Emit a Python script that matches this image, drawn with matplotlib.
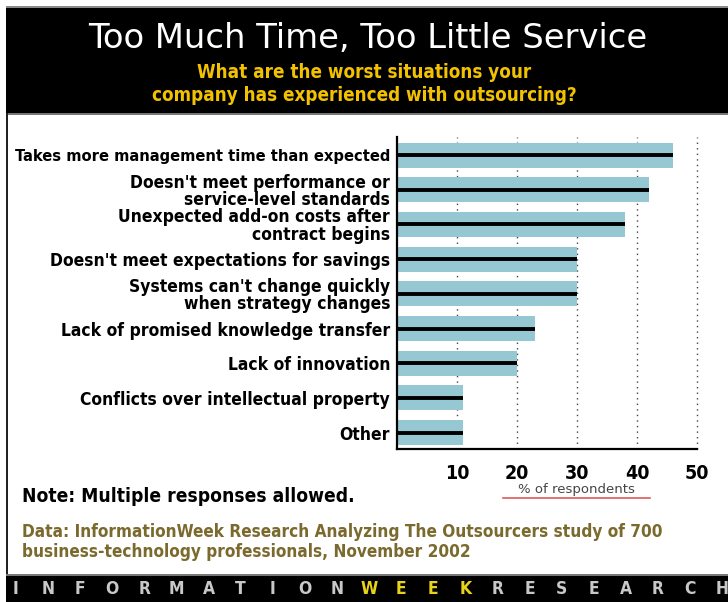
import matplotlib.pyplot as plt
from matplotlib.patches import Rectangle

# data
categories = [
    "Takes more management time than expected",
    "Doesn't meet performance or\nservice-level standards",
    "Unexpected add-on costs after\ncontract begins",
    "Doesn't meet expectations for savings",
    "Systems can't change quickly\nwhen strategy changes",
    "Lack of promised knowledge transfer",
    "Lack of innovation",
    "Conflicts over intellectual property",
    "Other",
]
values = [46, 42, 38, 30, 30, 23, 20, 11, 11]
x_ticks = [10, 20, 30, 40, 50]

title = "Too Much Time, Too Little Service"
subtitle = "What are the worst situations your\ncompany has experienced with outsourcing?"
note = "Note: Multiple responses allowed."
source = ("Data: InformationWeek Research Analyzing The Outsourcers study of 700\n"
          "business-technology professionals, November 2002")
brand = "INFORMATIONWEEKRESEARCH"

# condensed bold look of the original
COND = dict(family='DejaVu Sans', stretch='condensed', weight='bold')
BAR = '#96c8d3'
GOLD = '#f2c200'
OLIVE = '#7b6a2e'

W, H = 728, 602
fig = plt.figure(figsize=(W / 100, H / 100), dpi=100)

# background drawn in pixel coordinates
bg = fig.add_axes([0, 0, 1, 1])
bg.set_xlim(0, W)
bg.set_ylim(H, 0)
bg.axis('off')
bg.add_patch(Rectangle((6, 6), W - 6, 2, color='#888888', lw=0))
bg.add_patch(Rectangle((6, 8), W - 6, 105, color='black', lw=0))
bg.add_patch(Rectangle((6, 113), W - 6, 2, color='#777777', lw=0))
bg.add_patch(Rectangle((6, 113), 2, 463, color='#222222', lw=0))
bg.add_patch(Rectangle((6, 574), W - 6, 2, color='#777777', lw=0))
bg.add_patch(Rectangle((6, 576), W - 6, H - 576, color='black', lw=0))

bg.text(368, 39, title, color='white', fontsize=24.3, family='DejaVu Sans',
        ha='center', va='center')
bg.text(364, 84, subtitle, color=GOLD, fontsize=13.5, ha='center', va='center',
        linespacing=1.25, **COND)

bg.text(22, 497, note, color='black', fontsize=13.8, ha='left', va='center', **COND)
bg.text(22, 542, source, color=OLIVE, fontsize=12.35, ha='left', va='center',
        linespacing=1.12, **COND)

for i, ch in enumerate(brand):
    col = '#e8d21a' if 11 <= i <= 14 else '#c8c8c8'
    bg.text(16 + i * 32.1, 589, ch, color=col, fontsize=12.5, ha='center',
            va='center', **COND)

# "% of respondents" with red underline
bg.text(576, 490, "% of respondents", color='#444444', fontsize=9.5,
        family='DejaVu Sans', ha='center', va='center')
bg.plot([503, 650], [498, 498], color='#e05a5a', lw=1.2)

# main chart
ax = fig.add_axes([397 / W, 1 - 449 / H, 300 / W, (449 - 137) / H])
y = list(range(len(categories)))
ax.barh(y, values, height=0.72, color=BAR, zorder=2)
ax.hlines(y, 0, values, color='black', lw=2.8, zorder=3)

ax.set_xlim(0, 50)
ax.set_ylim(8.47, -0.52)
ax.set_xticks(x_ticks)
ax.set_xticklabels([str(t) for t in x_ticks], fontsize=14, **COND)
ax.set_yticks(y)
ax.set_yticklabels(categories, fontsize=12.5, linespacing=0.95, **COND)
# first label is set tighter in the original
ax.get_yticklabels()[0].set_fontsize(11.8)
ax.tick_params(axis='both', length=0)
ax.tick_params(axis='x', pad=11)
ax.tick_params(axis='y', pad=5)

ax.grid(axis='x', color='#444444', linestyle=(0, (1, 3)), lw=1, zorder=1)
for gl in ax.get_xgridlines():
    gl.set_clip_on(False)
ax.set_axisbelow(True)
for s in ['top', 'right']:
    ax.spines[s].set_visible(False)
for s in ['left', 'bottom']:
    ax.spines[s].set_linewidth(1.6)
    ax.spines[s].set_zorder(4)

fig.savefig('out.png', dpi=100)
